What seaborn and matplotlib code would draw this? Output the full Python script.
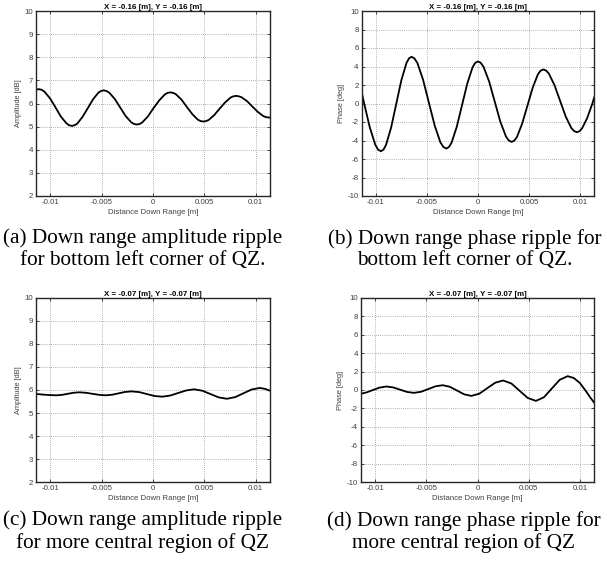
import matplotlib
matplotlib.use("Agg")
import matplotlib.pyplot as plt
import seaborn as sns
import pandas as pd

# ---------------- data ----------------
x_amp_corner = [-0.0114, -0.0111, -0.01083, -0.01057, -0.01003, -0.0095, -0.00897, -0.00843,
                -0.00817, -0.0079, -0.00764, -0.00738, -0.00687, -0.00635, -0.00583, -0.00532,
                -0.00506, -0.0048, -0.00453, -0.00427, -0.00373, -0.0032, -0.00267, -0.00213,
                -0.00187, -0.0016, -0.00133, -0.00105, -0.0005, 0.00005, 0.0006, 0.00115,
                0.00143, 0.0017, 0.00197, 0.00223, 0.00277, 0.0033, 0.00383, 0.00437,
                0.00463, 0.0049, 0.00517, 0.00543, 0.00597, 0.0065, 0.00703, 0.00757,
                0.00783, 0.0081, 0.00837, 0.00863, 0.00917, 0.0097, 0.01023, 0.01077,
                0.01103, 0.0113, 0.0114]
amp_corner = [6.60, 6.62, 6.59, 6.51, 6.22, 5.83, 5.43, 5.14, 5.06, 5.03,
              5.06, 5.13, 5.42, 5.80, 6.19, 6.47, 6.54, 6.57, 6.54, 6.47,
              6.20, 5.83, 5.46, 5.19, 5.12, 5.09, 5.11, 5.18, 5.44, 5.80,
              6.13, 6.39, 6.46, 6.48, 6.46, 6.40, 6.17, 5.85, 5.54, 5.30,
              5.24, 5.22, 5.24, 5.29, 5.50, 5.78, 6.05, 6.26, 6.31, 6.33,
              6.31, 6.27, 6.10, 5.86, 5.63, 5.45, 5.41, 5.39, 5.40]

x_phase_corner = [-0.0114, -0.01116, -0.0106, -0.01005, -0.00978, -0.0095, -0.00925, -0.0090,
                  -0.0085, -0.0080, -0.0075, -0.0070, -0.00675, -0.0065, -0.00622, -0.00593,
                  -0.00537, -0.0048, -0.00423, -0.00367, -0.00338, -0.0031, -0.00284, -0.00258,
                  -0.00207, -0.00155, -0.00103, -0.00052, -0.00026, 0.0, 0.000275, 0.00055,
                  0.0011, 0.00165, 0.0022, 0.00275, 0.003025, 0.0033, 0.00356, 0.00382,
                  0.00433, 0.00485, 0.00537, 0.00588, 0.00614, 0.0064, 0.006675, 0.00695,
                  0.0075, 0.00805, 0.0086, 0.00915, 0.009425, 0.0097, 0.00995, 0.0102,
                  0.0107, 0.0112, 0.0114]
phase_corner = [1.3, 0.1, -2.53, -4.46, -4.98, -5.16, -4.99, -4.48, -2.61, -0.06,
                2.50, 4.37, 4.88, 5.05, 4.88, 4.39, 2.57, 0.09, -2.39, -4.21,
                -4.70, -4.87, -4.71, -4.24, -2.52, -0.16, 2.20, 3.92, 4.39, 4.55,
                4.40, 3.97, 2.38, 0.20, -1.98, -3.57, -4.00, -4.15, -4.02, -3.63,
                -2.19, -0.24, 1.72, 3.16, 3.55, 3.68, 3.57, 3.23, 1.99, 0.29,
                -1.41, -2.65, -2.99, -3.10, -3.00, -2.69, -1.58, -0.05, 0.70]

x_amp_central = [-0.0114, -0.0107, -0.0100, -0.0094, -0.00885, -0.0083, -0.00775, -0.0072,
                 -0.00655, -0.0059, -0.00525, -0.0046, -0.00398, -0.00335, -0.00273, -0.0021,
                 -0.00135, -0.0006, 0.00015, 0.0009, 0.00168, 0.00245, 0.00323, 0.0040,
                 0.0048, 0.0056, 0.0064, 0.0072, 0.0080, 0.0088, 0.0096, 0.0104, 0.0109, 0.0114]
amp_central = [5.83, 5.80, 5.78, 5.77, 5.79, 5.835, 5.88, 5.90, 5.88, 5.835, 5.79, 5.77,
               5.795, 5.855, 5.915, 5.94, 5.91, 5.825, 5.74, 5.71, 5.76, 5.87, 5.98, 6.03,
               5.97, 5.825, 5.68, 5.62, 5.69, 5.855, 6.02, 6.09, 6.05, 5.97]

x_phase_central = [-0.0114, -0.0108, -0.0102, -0.0096, -0.0089, -0.00823, -0.00755, -0.00688,
                   -0.0062, -0.0055, -0.0048, -0.0041, -0.0034, -0.0027, -0.0020, -0.0013,
                   -0.0006, 0.00018, 0.00095, 0.00173, 0.0025, 0.0033, 0.0041, 0.0049,
                   0.0057, 0.00648, 0.00725, 0.00803, 0.0088, 0.0094, 0.0100, 0.0106, 0.0110, 0.0114]
phase_central = [-0.42, -0.25, 0.0, 0.25, 0.38, 0.28, 0.035, -0.21, -0.31, -0.19, 0.105, 0.40,
                 0.52, 0.35, -0.06, -0.47, -0.64, -0.40, 0.195, 0.79, 1.03, 0.71, -0.075, -0.86,
                 -1.18, -0.79, 0.16, 1.11, 1.50, 1.30, 0.75, -0.15, -0.80, -1.39]

x_ticks = [-0.01, -0.005, 0, 0.005, 0.01]
x_tick_labels = ["-0.01", "-0.005", "0", "0.005", "0.01"]
amp_ticks = [2, 3, 4, 5, 6, 7, 8, 9, 10]
phase_ticks = [-10, -8, -6, -4, -2, 0, 2, 4, 6, 8, 10]

titles = ["X = -0.16 [m], Y = -0.16 [m]", "X = -0.16 [m], Y = -0.16 [m]",
          "X = -0.07 [m], Y = -0.07 [m]", "X = -0.07 [m], Y = -0.07 [m]"]
captions = ["(a) Down range amplitude ripple\nfor bottom left corner of QZ.",
            "(b) Down range phase ripple for\nbottom left corner of QZ.",
            "(c) Down range amplitude ripple\nfor more central region of QZ",
            "(d) Down range phase ripple for\nmore central region of QZ"]

# ---------------- style ----------------
sns.set_theme(style="white")
plt.rcParams['font.family'] = ['Liberation Sans', 'DejaVu Sans']

W, H = 607, 568
fig = plt.figure(figsize=(W / 100, H / 100), dpi=100)
fig.patch.set_facecolor("white")

def box(l, r, t, b):
    return [l / W, 1 - b / H, (r - l) / W, (b - t) / H]

positions = [box(36, 270, 11, 196), box(361.5, 594.3, 11, 196),
             box(36, 270, 297.7, 482.3), box(360.7, 594.3, 297.7, 482.3)]

panels = [(x_amp_corner, amp_corner, "Amplitude [dB]", (2, 10), amp_ticks),
          (x_phase_corner, phase_corner, "Phase [deg]", (-10, 10), phase_ticks),
          (x_amp_central, amp_central, "Amplitude [dB]", (2, 10), amp_ticks),
          (x_phase_central, phase_central, "Phase [deg]", (-10, 10), phase_ticks)]

fs = 5.7
txtc = "#404040"
for i, (pos, (xs, ys, ylab, ylim, yt)) in enumerate(zip(positions, panels)):
    ax = fig.add_axes(pos)
    df = pd.DataFrame({"x": xs, "y": ys})
    sns.lineplot(data=df, x="x", y="y", ax=ax, color="black", lw=1.3)
    ax.set_xlim(-0.0114, 0.0114)
    ax.set_ylim(*ylim)
    ax.set_xticks(x_ticks)
    ax.set_xticklabels(x_tick_labels)
    ax.set_yticks(yt)
    ax.set_yticklabels([str(v) for v in yt])
    ax.grid(True, linestyle=(0, (1, 1.5)), color="#9a9a9a", lw=0.6)
    ax.tick_params(axis="both", direction="in", length=2.5, width=0.6,
                   labelsize=fs, labelcolor=txtc, color="#262626", pad=2,
                   top=True, right=True, bottom=True, left=True)
    for s in ax.spines.values():
        s.set_color("#262626")
        s.set_linewidth(1.0)
    ax.set_xlabel("Distance Down Range [m]", fontsize=5.6, color=txtc, labelpad=2)
    ax.set_ylabel(ylab, fontsize=5.35, color=txtc, labelpad=2)
    ax.set_title(titles[i], fontsize=5.7, fontweight="bold", color="black", pad=1.5)

cap_pos = [(143, 249.5), (465, 249.5), (143, 532), (464, 532)]
for (cx, cy), cap in zip(cap_pos, captions):
    fig.text(cx / W, 1 - cy / H, cap, ha="center", va="center", multialignment="center",
             fontsize=15.3, family=["Liberation Serif", "DejaVu Serif"], color="black",
             linespacing=1.2)

fig.savefig("out.png", dpi=100, facecolor="white")
